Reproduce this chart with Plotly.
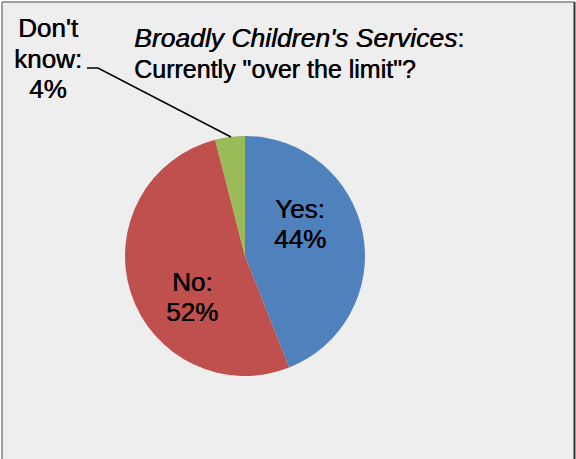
import plotly.graph_objects as go

W, H = 576, 459

categories = ["Yes", "No", "Don't know"]
values = [44, 52, 4]
colors = ["#4f81bd", "#c0504d", "#9bbb59"]

title_lines = ['<span style="font-size:26.5px"><i>Broadly Children\'s Services</i></span>:',
               'Currently "over the limit"?']
yes_lines = ["Yes:", "44%"]
no_lines = ["No:", "52%"]
dk_lines = ["Don't", "know:", "4%"]


def px(x):
    return x / W


def py(y):
    return 1 - y / H


fig = go.Figure()
fig.add_trace(go.Pie(
    labels=categories,
    values=values,
    marker=dict(colors=colors, line=dict(width=0)),
    sort=False,
    direction="clockwise",
    rotation=0,
    textinfo="none",
    hoverinfo="label+percent",
    showlegend=False,
    domain=dict(x=[px(125), px(365)], y=[py(376), py(136)]),
))

ann = []
SH = "0.5px 0 0 #000"
font_lbl = dict(family="Liberation Sans, Arial, sans-serif", size=26, color="black", shadow=SH)
font_title = dict(family="Liberation Sans, Arial, sans-serif", size=25, color="black", shadow=SH)


def add_lines(lines, xc, centers, font, xanchor="center"):
    for t, yc in zip(lines, centers):
        ann.append(dict(text=t, x=px(xc), y=py(yc), xref="paper", yref="paper",
                        xanchor=xanchor, yanchor="middle", showarrow=False, font=font))


add_lines(title_lines, 132, [38, 69], font_title, xanchor="left")
add_lines(yes_lines, 299.5, [209, 239], font_lbl)
add_lines(no_lines, 191.5, [282, 312], font_lbl)
add_lines(dk_lines, 48, [28, 59, 89], font_lbl)

shapes = [
    dict(type="rect", xref="paper", yref="paper", x0=px(2), x1=px(574.5), y0=-0.05, y1=py(2),
         fillcolor="#eeeeee", line=dict(width=0), layer="below"),
    dict(type="line", xref="paper", yref="paper", x0=px(2), x1=px(2), y0=-0.05, y1=py(2),
         line=dict(color="#808080", width=1.5)),
    dict(type="line", xref="paper", yref="paper", x0=px(2), x1=px(574.5), y0=py(2), y1=py(2),
         line=dict(color="#808080", width=1.5)),
    dict(type="line", xref="paper", yref="paper", x0=px(574.5), x1=px(574.5), y0=-0.05, y1=py(2),
         line=dict(color="#333333", width=2)),
    dict(type="path", xref="paper", yref="paper",
         path=f"M {px(87)} {py(68)} L {px(98)} {py(68)} L {px(231)} {py(137)}",
         line=dict(color="black", width=1.5)),
]

fig.update_layout(
    width=W, height=H,
    margin=dict(l=0, r=0, t=0, b=0),
    paper_bgcolor="white",
    plot_bgcolor="white",
    annotations=ann,
    shapes=shapes,
)

fig.write_html("out.html")
